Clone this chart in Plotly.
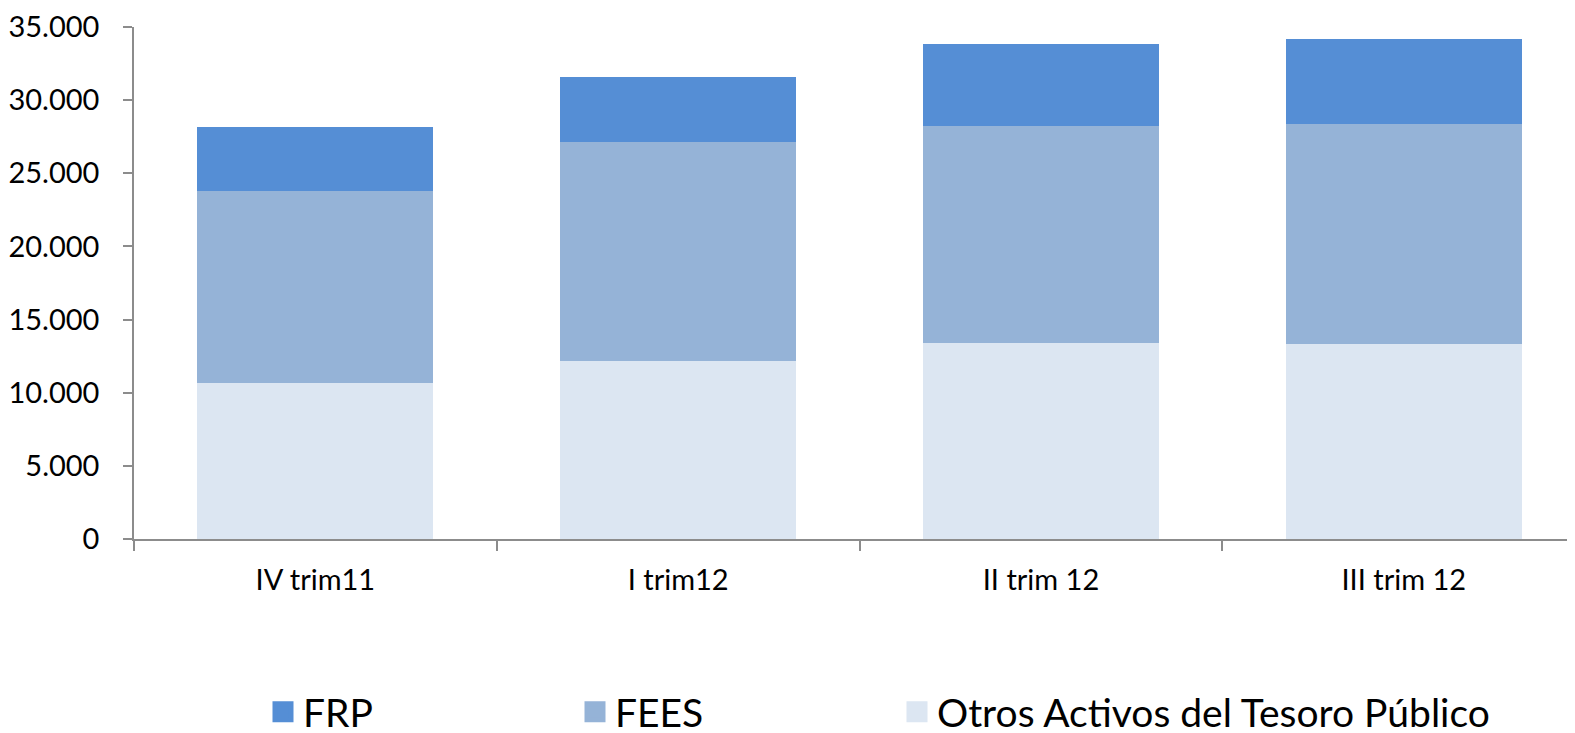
import plotly.graph_objects as go

categories = ["IV trim11", "I trim12", "II trim 12", "III trim 12"]
otros = [10650, 12200, 13400, 13330]
fees = [13140, 14940, 14830, 15040]
frp = [4370, 4440, 5610, 5810]

series_names = ["Otros Activos del Tesoro Público", "FEES", "FRP"]
series_values = [otros, fees, frp]
series_colors = ["#DCE6F2", "#95B3D7", "#558ED5"]

y_ticks = [0, 5000, 10000, 15000, 20000, 25000, 30000, 35000]

W, H = 1567, 725  # page body has an 8px margin

fig = go.Figure()
for name, vals, col in zip(series_names, series_values, series_colors):
    fig.add_trace(go.Bar(x=categories, y=vals, name=name, marker_color=col,
                         marker_line_width=0, showlegend=False))

# one legend per entry so each can be placed like the reference
legend_ids = ["legend3", "legend2", "legend"]
legend_x = [889, 567, 255]
for name, col, lid in zip(series_names, series_colors, legend_ids):
    fig.add_trace(go.Scatter(x=[None], y=[None], mode="markers", name=name,
                             legend=lid, showlegend=True,
                             marker=dict(symbol="square", size=16, color=col,
                                         line=dict(color=col, width=5))))

legend_common = dict(orientation="h", xref="container", yref="container",
                     xanchor="left", y=21/H, yanchor="middle",
                     bgcolor="rgba(0,0,0,0)",
                     font=dict(family="Lato", size=39, color="black"),
                     itemclick=False, itemdoubleclick=False)

fig.update_layout(
    width=W, height=H,
    barmode="stack", bargap=0.35,
    plot_bgcolor="white", paper_bgcolor="white",
    margin=dict(l=121, r=0, t=17, b=194),
    separators=",.",
    font=dict(family="Lato", color="black", size=29),
    showlegend=True,
    legend=dict(x=legend_x[2]/W, **legend_common),
    legend2=dict(x=legend_x[1]/W, **legend_common),
    legend3=dict(x=legend_x[0]/W, **legend_common),
)
fig.update_xaxes(range=[-0.5, 3.472], showline=True, linecolor="#8c8c8c", linewidth=1.5,
                 ticks="outside", tickson="boundaries", ticklen=10, tickcolor="#8c8c8c",
                 tickwidth=1.5, showgrid=False, ticklabelstandoff=14,
                 tickfont=dict(family="Lato", size=29, color="black"))
fig.update_yaxes(range=[0, 35000], tickvals=y_ticks, tickformat=",d", showline=True,
                 linecolor="#8c8c8c", linewidth=1.5, ticks="outside", ticklen=9,
                 tickcolor="#8c8c8c", tickwidth=1.5, showgrid=False, zeroline=False,
                 ticklabelstandoff=18, ticklabeloverflow="allow",
                 tickfont=dict(family="Lato", size=29, color="black"))

fig.write_html("out.html")
